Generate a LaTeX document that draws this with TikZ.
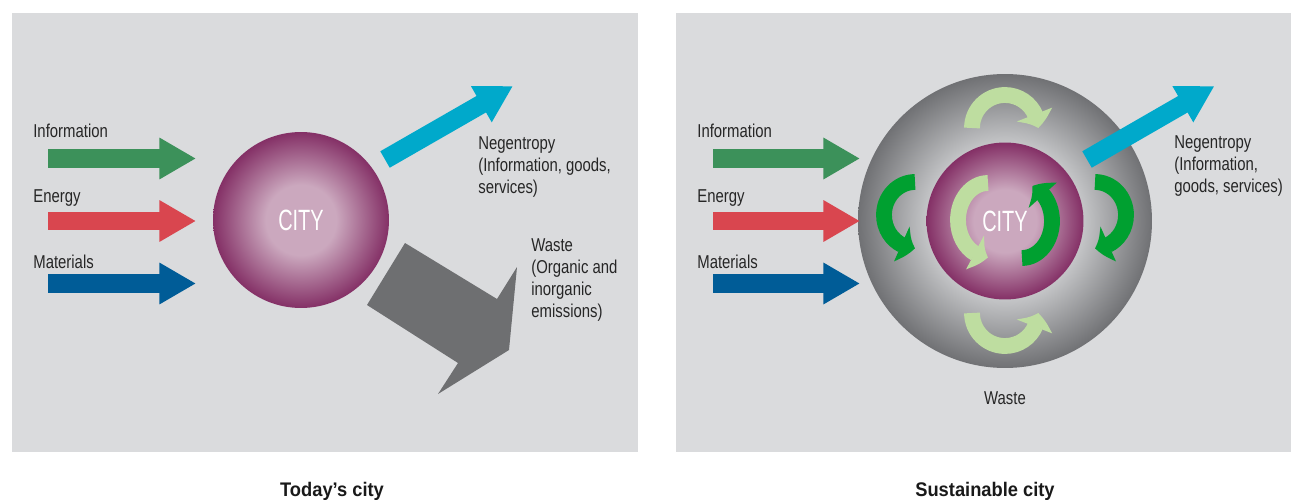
\documentclass[tikz,border=0pt]{standalone}
\usepackage{fontspec}
\setmainfont{Liberation Sans}[FakeStretch=0.8]
\newfontfamily\cityfont{Liberation Sans}[FakeStretch=0.68]
\newfontfamily\capfont{Liberation Sans}[FakeStretch=0.93]
\usetikzlibrary{arrows.meta,bending}

\definecolor{panel}{RGB}{218,219,221}
\definecolor{infogreen}{RGB}{60,145,90}
\definecolor{energyred}{RGB}{217,70,79}
\definecolor{matblue}{RGB}{0,92,151}
\definecolor{negcyan}{RGB}{0,169,203}
\definecolor{wastegray}{RGB}{110,111,113}
\definecolor{citypink}{RGB}{203,168,190}
\definecolor{cityplum}{RGB}{132,48,102}
\definecolor{spherelight}{RGB}{206,207,209}
\definecolor{spheremid}{RGB}{198,199,201}
\definecolor{spheredark}{RGB}{112,113,116}
\definecolor{leafgreen}{RGB}{190,221,160}
\definecolor{deepgreen}{RGB}{0,160,48}

\pgfdeclareradialshading{cityglow}{\pgfpoint{0bp}{0bp}}{color(0bp)=(citypink); color(10bp)=(citypink); color(25bp)=(cityplum); color(50bp)=(cityplum)}
\pgfdeclareradialshading{sphereglow}{\pgfpoint{0bp}{0bp}}{color(0bp)=(spherelight); color(13bp)=(spheremid); color(25bp)=(spheredark); color(50bp)=(spheredark)}

\begin{document}
\begin{tikzpicture}
  [x=0.02cm,y=-0.02cm,
   flow/.style={line width=10.8pt,draw=#1,-{Triangle[length=20.8pt,width=22.2pt]}},
   bentflow/.style={line width=9pt,draw=#1,-{Triangle[length=8pt,width=21pt,bend]}},
   label/.style={anchor=base west,inner sep=0pt,text=black!85,align=left,
                 font=\fontsize{10.6}{12.4}\selectfont},
   ball/.style={circle,inner sep=0pt,shading=#1},
   citytext/.style={text=white,font=\cityfont\fontsize{16.7}{18}\selectfont},
   caption/.style={anchor=base,inner sep=0pt,text=black!90,
                   font=\capfont\bfseries\fontsize{11.2}{13}\selectfont}]
  \useasboundingbox (0,0) rectangle (1291,500);

  % the two panels
  \fill[panel] (12,13) rectangle (638,452);
  \fill[panel] (676,13) rectangle (1291,452);

  % ---- today's city ----
  \node (city) at (301,220) [ball=cityglow,minimum size=3.52cm,citytext] {CITY};

  \node (info)   at (33,137) [label] {Information};
  \node (energy) at (33,202) [label] {Energy};
  \node (mat)    at (33,268) [label] {Materials};

  \coordinate (infoA) at (48,158.5);   \coordinate (infoB) at (196,158.5);
  \coordinate (enA)   at (48,221);     \coordinate (enB)   at (196,221);
  \coordinate (matA)  at (48,283.5);   \coordinate (matB)  at (196,283.5);
  \draw[flow=infogreen] (infoA) -- (infoB);
  \draw[flow=energyred] (enA) -- (enB);
  \draw[flow=matblue]   (matA) -- (matB);

  \coordinate (negA) at (385,159.5);  \coordinate (negB) at (513,86);
  \draw[flow=negcyan] (negA) -- (negB);
  % base of a multi-line label is its last line
  \node (neg) at (478,193) [label] {Negentropy\\(Information, goods,\\services)};

  % big waste arrow
  \fill[wastegray] (405,243) -- (497,299) -- (517,267) -- (509,350)
                   -- (438,394) -- (458,363) -- (367,305) -- cycle;
  \node (waste) at (531,317) [label] {Waste\\(Organic and\\inorganic\\emissions)};

  \node (today) at (332,496) [caption] {Today’s city};

  % ---- sustainable city ----
  \node (sphere) at (1005,221) [ball=sphereglow,minimum size=5.88cm] {};
  \node (scity)  at (1005,221) [ball=cityglow,minimum size=3.14cm] {};

  \node (sinfo)   at (697,137) [label] {Information};
  \node (senergy) at (697,202) [label] {Energy};
  \node (smat)    at (697,268) [label] {Materials};

  \coordinate (sinfoA) at (713,158.5);  \coordinate (sinfoB) at (860,158.5);
  \coordinate (senA)   at (713,221);    \coordinate (senB)   at (860,221);
  \coordinate (smatA)  at (713,283.5);  \coordinate (smatB)  at (860,283.5);
  \draw[flow=infogreen] (sinfoA) -- (sinfoB);
  \draw[flow=energyred] (senA) -- (senB);
  \draw[flow=matblue]   (smatA) -- (smatB);

  % loops in the outer ring
  \draw[bentflow=leafgreen] (972,128) arc[start angle=-180,end angle=0,radius=33];
  \draw[bentflow=leafgreen] (972,313) arc[start angle=180,end angle=0,radius=33];
  \draw[bentflow=deepgreen] (915,182) arc[start angle=-90,end angle=-270,x radius=31,y radius=33];
  \draw[bentflow=deepgreen] (1095,182) arc[start angle=-90,end angle=90,x radius=31,y radius=33];

  % loops inside the city
  \draw[bentflow=leafgreen] (988,183) arc[start angle=-90,end angle=-270,x radius=30,y radius=37];
  \draw[bentflow=deepgreen] (1022,258) arc[start angle=90,end angle=-70,x radius=30,y radius=37];
  \node at (scity) [citytext] {CITY};

  \coordinate (snegA) at (1087,159.5);  \coordinate (snegB) at (1214.5,86);
  \draw[flow=negcyan] (snegA) -- (snegB);
  \node (sneg) at (1174,192) [label] {Negentropy\\(Information,\\goods, services)};

  \node (swaste) at (1005,404) [label,anchor=base] {Waste};
  \node (sust) at (985,496) [caption] {Sustainable city};
\end{tikzpicture}
\end{document}
